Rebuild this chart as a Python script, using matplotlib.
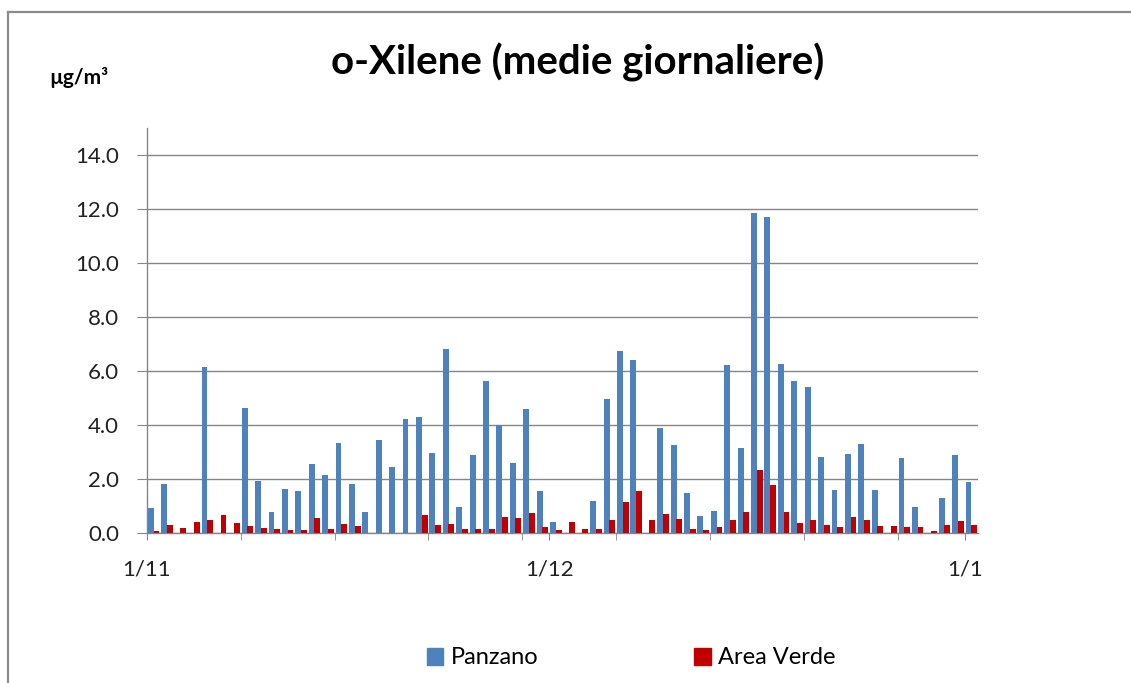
import matplotlib
matplotlib.use('Agg')
import matplotlib.pyplot as plt
import numpy as np
from matplotlib.lines import Line2D
from matplotlib.patches import Patch

nan = np.nan

# days from 1/11 to 1/1 (index 0 = 1 Nov)
DAY_LABELS = ['1/11', '1/12', '1/1']
DAY_LABEL_POS = [0, 30, 61]
WEEK_TICKS = [7, 14, 21, 28, 35, 42, 49, 56]

PANZANO = [0.91, 1.83, nan, nan, 6.16, nan, nan, 4.63, 1.92, 0.78,
           1.63, 1.55, 2.55, 2.16, 3.35, 1.83, 0.77, 3.44, 2.45, 4.22,
           4.30, 2.97, 6.80, 0.97, 2.88, 5.64, 3.99, 2.58, 4.60, 1.54,
           0.39, nan, nan, 1.20, 4.97, 6.75, 6.41, nan, 3.88, 3.25,
           1.49, 0.63, 0.83, 6.21, 3.16, 11.85, 11.71, 6.25, 5.64, 5.39,
           2.83, 1.59, 2.92, 3.30, 1.59, nan, 2.78, 0.98, nan, 1.31,
           2.88, 1.88]
AREA_VERDE = [0.06, 0.30, 0.20, 0.40, 0.50, 0.65, 0.36, 0.25, 0.20, 0.16,
              0.11, 0.11, 0.55, 0.16, 0.35, 0.25, nan, nan, nan, nan,
              0.65, 0.30, 0.35, 0.16, 0.16, 0.16, 0.58, 0.55, 0.75, 0.21,
              0.11, 0.39, 0.15, 0.15, 0.48, 1.16, 1.54, 0.48, 0.72, 0.53,
              0.15, 0.10, 0.21, 0.48, 0.77, 2.35, 1.78, 0.78, 0.36, 0.49,
              0.31, 0.21, 0.59, 0.49, 0.26, 0.26, 0.21, 0.21, 0.07, 0.31,
              0.45, 0.31]

BLUE = '#4F81BD'
RED = '#C00000'
GRID = '#868686'
FONT = 'Lato'

plt.rcParams['font.family'] = [FONT, 'DejaVu Sans']

fig = plt.figure(figsize=(11.31, 6.83), dpi=100)
ax = fig.add_axes([147 / 1131, 1 - 533 / 683, (978 - 147) / 1131, (533 - 128) / 683])

x = np.arange(len(PANZANO))
w = 0.44
ax.bar(x + 0.29, PANZANO, width=w, color=BLUE, zorder=3)
ax.bar(x + 0.71, AREA_VERDE, width=w, color=RED, zorder=3)

ax.set_xlim(0, len(PANZANO))
ax.set_ylim(0, 15)
ax.set_yticks(np.arange(0, 15, 2))
ax.set_yticklabels([f'{v:.1f}' for v in np.arange(0, 15, 2)])
ax.yaxis.grid(True, color=GRID, lw=1.0, zorder=0)
ax.set_axisbelow(True)

ax.set_xticks(DAY_LABEL_POS)
ax.set_xticklabels(DAY_LABELS)
ax.set_xticks(WEEK_TICKS, minor=True)

for s in ('top', 'right'):
    ax.spines[s].set_visible(False)
for s in ('left', 'bottom'):
    ax.spines[s].set_color(GRID)
    ax.spines[s].set_linewidth(1.0)

ax.tick_params(axis='y', direction='out', length=7, color=GRID, pad=13,
               labelsize=16, labelcolor='#222222')
ax.tick_params(axis='x', which='both', direction='out', length=5, color=GRID)
ax.tick_params(axis='x', which='major', pad=14, labelsize=16, labelcolor='#222222')

fig.text(578 / 1131, 1 - 62 / 683, 'o-Xilene (medie giornaliere)', ha='center',
         va='center', fontsize=29, fontweight='bold')
fig.text(49 / 1131, 1 - 77 / 683, 'µg/m³', ha='left', va='center',
         fontsize=15, fontweight='bold')

handles = [Patch(color=BLUE, label='Panzano'), Patch(color=RED, label='Area Verde')]
fig.legend(handles=handles, loc='center', bbox_to_anchor=(631 / 1131, 1 - 658 / 683),
           ncol=2, frameon=False, fontsize=17, handlelength=0.7, handleheight=0.7,
           handletextpad=0.3, columnspacing=6.6)

# outer chart frame (top and left edges visible)
fig.add_artist(Line2D([8 / 1131, 1], [1 - 12 / 683, 1 - 12 / 683],
                      transform=fig.transFigure, color='#8c8c8c', lw=1.6))
fig.add_artist(Line2D([8 / 1131, 8 / 1131], [0, 1 - 12 / 683],
                      transform=fig.transFigure, color='#8c8c8c', lw=1.6))

fig.savefig('out.png', dpi=100)
